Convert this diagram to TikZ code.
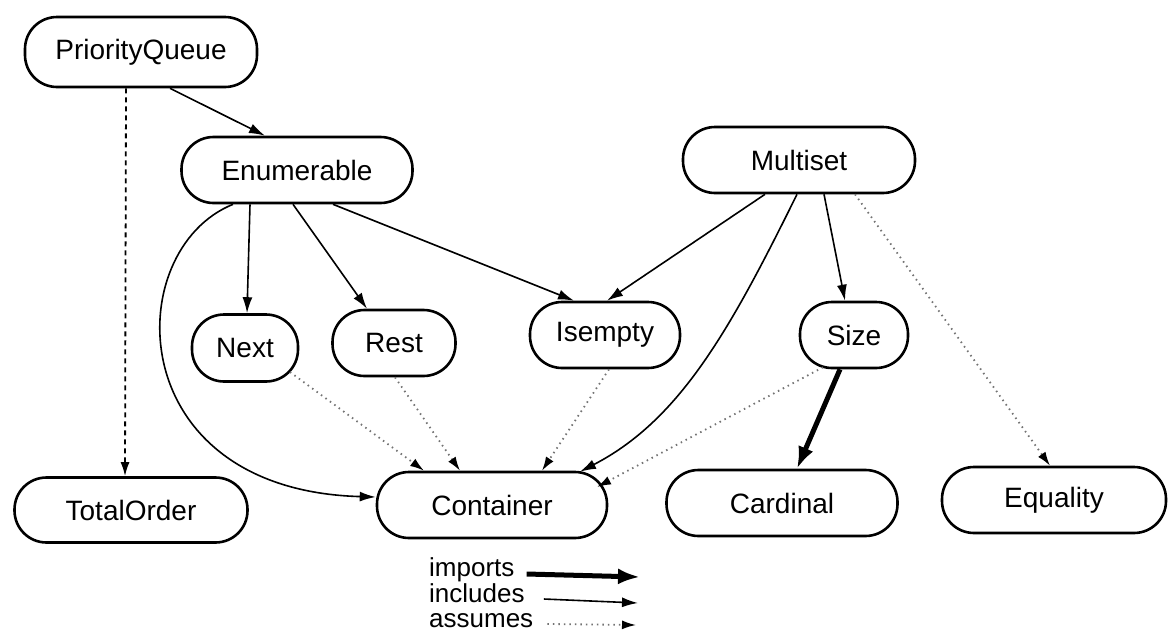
\documentclass[tikz,border=0pt]{standalone}
\usepackage{fontspec}
\setmainfont{Liberation Sans}
\usetikzlibrary{arrows.meta}
\begin{document}
\begin{tikzpicture}[x=1pt,y=-1pt,
 box/.style={draw,line width=2.6pt,rounded corners=32pt,minimum height=66pt,inner sep=0pt,font=\fontsize{28}{30}\selectfont},
 inc/.style={line width=1.6pt,-{Latex[length=16pt,width=10pt]}},
 imp/.style={line width=5pt,-{Latex[length=22pt,width=16pt]}},
 asm/.style={line width=1.8pt,black!55,dash pattern=on 1.5pt off 4pt,-{Latex[length=14pt,width=9pt,color=black]}},
 asmd/.style={line width=1.8pt,dash pattern=on 5pt off 4pt,-{Latex[length=14pt,width=9pt]}},
 lbl/.style={inner sep=0pt,anchor=base west,font=\fontsize{26}{28}\selectfont}]
\useasboundingbox (0,0) rectangle (1169,635);
% nodes
\node[box,minimum width=232pt,minimum height=70pt] (pq) at (141,52) {PriorityQueue};
\node[box,minimum width=231pt] (en) at (297,170) {Enumerable};
\node[box,minimum width=232pt] (ms) at (799,160) {Multiset};
\node[box,minimum width=106pt,minimum height=67pt] (nx) at (245,348) {Next};
\node[box,minimum width=123pt] (rs) at (394,343) {Rest};
\node[box,minimum width=150pt] (ie) at (605,335) {Isempty};
\node[box,minimum width=108pt] (sz) at (854,335) {Size};
\node[box,minimum width=233pt,minimum height=65pt] (to) at (131,510) {TotalOrder};
\node[box,minimum width=230pt] (ct) at (492,505) {Container};
\node[box,minimum width=231pt] (cd) at (782,503) {Cardinal};
\node[box,minimum width=224pt] (eq) at (1054,500) {Equality};
% edges
\draw[inc] ([xshift=29pt]pq.south) -- ([xshift=-32pt]en.north);
\draw[asmd] ([xshift=-15pt]pq.south) -- ([xshift=-6pt]to.north);
\draw[inc] ([xshift=-47pt]en.south) -- ([xshift=2pt]nx.north);
\draw[inc] ([xshift=-4pt]en.south) -- ([xshift=-27pt]rs.north);
\draw[inc] ([xshift=36pt]en.south) -- ([xshift=-31pt]ie.north);
\draw[inc] ([xshift=-64pt]en.south) .. controls (120,250) and (120,490) .. ([yshift=8pt]ct.west);
\draw[inc] ([xshift=-34pt]ms.south) -- ([xshift=2pt]ie.north);
\draw[inc] ([xshift=-2pt]ms.south) .. controls (730,330) and (680,420) .. ([xshift=88pt,yshift=-1pt]ct.north);
\draw[inc] ([xshift=25pt]ms.south) -- ([xshift=-9pt]sz.north);
\draw[asm] ([xshift=56pt]ms.south) -- ([xshift=-4pt]eq.north);
\draw[imp] ([xshift=-14pt]sz.south) -- ([xshift=15pt]cd.north);
\draw[asm] ([xshift=-31pt,yshift=2pt]sz.south) -- ([xshift=105pt,yshift=18pt]ct.center);
\draw[asm] ([xshift=45pt,yshift=-24pt]nx.center) -- ([xshift=-68pt]ct.north);
\draw[asm] ([xshift=1pt]rs.south) -- ([xshift=-32pt]ct.north);
\draw[asm] ([xshift=4pt]ie.south) -- ([xshift=50pt]ct.north);
% legend
\node[lbl] (limp) at (429,576) {imports};
\node[lbl] (linc) at (429,602) {includes};
\node[lbl] (lasm) at (429,627) {assumes};
\coordinate (eimp) at (640,577);
\coordinate (einc) at (638,603);
\coordinate (easm) at (636,625);
\draw[imp] ([xshift=12pt,yshift=2pt]limp.base east) -- (eimp);
\draw[inc] ([xshift=19pt,yshift=3pt]linc.base east) -- (einc);
\draw[asm] ([xshift=14pt,yshift=3pt]lasm.base east) -- (easm);
\end{tikzpicture}
\end{document}
